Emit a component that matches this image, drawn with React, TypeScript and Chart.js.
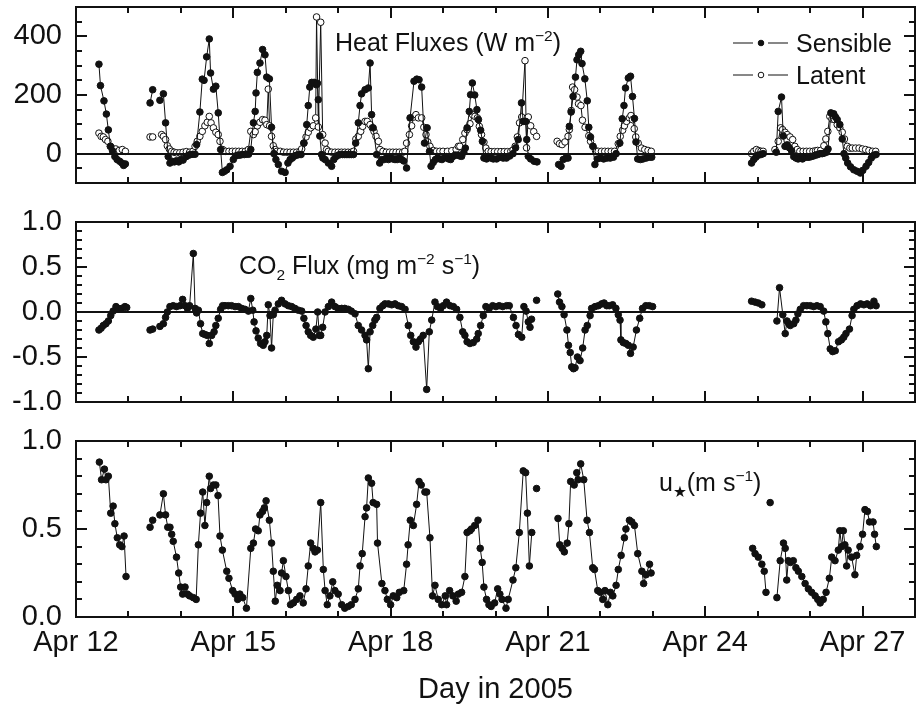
import React, { useEffect, useRef } from "react";
import { Chart, registerables } from "chart.js";

Chart.register(...registerables);

const FONT = "'Liberation Sans', Arial, Helvetica, 'DejaVu Sans', sans-serif";

// ---- x axis (days in April 2005) ----
const dayTicks = [12, 13, 14, 15, 16, 17, 18, 19, 20, 21, 22, 23, 24, 25, 26, 27, 28];
const dayLabelDays = [12, 15, 18, 21, 24, 27];
const dayLabelTexts = ["Apr 12", "Apr 15", "Apr 18", "Apr 21", "Apr 24", "Apr 27"];

// ---- y ticks ----
const heatTicks = [-100, -50, 0, 50, 100, 150, 200, 250, 300, 350, 400, 450, 500];
const heatTickLabels = ["0", "200", "400"];
const co2Ticks = [-1.0, -0.9, -0.8, -0.7, -0.6, -0.5, -0.4, -0.3, -0.2, -0.1, 0.0, 0.1, 0.2, 0.3, 0.4, 0.5, 0.6, 0.7, 0.8, 0.9, 1.0];
const co2TickLabels = ["-1.0", "-0.5", "0.0", "0.5", "1.0"];
const ustarTicks = [0.0, 0.1, 0.2, 0.3, 0.4, 0.5, 0.6, 0.7, 0.8, 0.9, 1.0];
const ustarTickLabels = ["0.0", "0.5", "1.0"];

// ---- data: [hours since Apr 12 00:00, value]; null = gap in record ----
const sensibleHeat = [
  [10.5, 305], [11.2, 232], [12.8, 180], [13.9, 135], [14.8, 81], [15.8, 25], [16.7, 10], [17.8, -10], [18.8, -20], [20, -26], [21, -32], [21.8, -40], [22.6, -35],
  null,
  [33.9, 173], [35.1, 218],
  null,
  [38.4, 182], [40, 204], [41, 105], [42.2, -10], [43, -32], [44, -26], [45, -28], [46, -24], [47, -28], [48, -20], [49, -22], [50.5, -10], [51.5, -5], [52.5, -3], [53.5, -2], [54.5, -2],
  [55.2, 31], [56.7, 142], [57.8, 254], [58.6, 250], [59.8, 330], [61, 391], [61.6, 275], [62.9, 220], [64, 230], [65.1, 139], [66.2, 14], [67, -64], [68, -60], [69, -55], [70.5, -43],
  [72, -20], [73, -8], [74, -5], [75, -5], [76, -3], [77, -3], [78, -2], [79, -2], [80, 14], [81.2, 105], [82, 144], [82.4, 207], [83, 277], [84.2, 309], [85.4, 355], [86.5, 337],
  [87.3, 261], [88.5, 255], [89.5, 90], [90.6, 0], [91.5, -20], [92.6, -37], [94.1, -60], [95.7, -64], [97, -32], [98, -20], [99, -15], [100, -8], [101, -5], [102, -3], [103, -3],
  [104.3, 36], [105.6, 99], [106.3, 164], [107, 227], [107.9, 243], [109, 243], [110, 235], [110.5, 240], [110.9, 184], [111.6, 60], [112.4, -3], [113, -15], [114, -20], [115.5, -32],
  [117, -43], [118, -20], [119, -10], [120, -5], [121, -3], [122, -3], [123, -3], [124, -3], [125, -3], [126, -3], [127, -3], [128, 36], [129.2, 105], [130, 164], [130.7, 204],
  [132.3, 218], [133.8, 224], [134.6, 309], [135.3, 133], [136, 88], [137.6, -3], [139, -32], [140, -20], [141, -20], [142, -15], [143, -20], [144, -15], [145, -18], [146, -20],
  [147, -20], [148, -15], [149, -20], [150, -25], [151.3, -49], [152.9, 122], [154.7, 247], [156, 254], [157, 252], [158.2, 227], [159.5, 36], [160.7, 88], [161.8, 8], [162.5, -43],
  [163.5, -30], [164.5, -20], [165.5, -15], [166.5, -18], [167.5, -20], [168.5, -15], [169.5, -10], [170.5, -18], [171.5, -20], [172.5, -10], [173.5, -5], [174.5, -5], [175.7, -8],
  [176.5, -9], [177.5, 5], [178.2, 19], [179, 88], [180, 144], [180.6, 201], [181.4, 241], [182.5, 200], [183.5, 150], [184.2, 116], [185.2, 80], [186, 42], [186.7, -15], [187.9, -18],
  [189, -12], [190, -15], [191, -18], [192.5, -18], [194, -12], [195.5, -15], [197, -15], [198.5, -8], [200, 0], [201.2, 20], [202.4, 48], [203.9, 173], [204.7, 110], [205.8, 110],
  [206.3, 48], [207, -9], [208.1, -18], [209.7, -26], [211, -28],
  null,
  [220.9, -37], [222, -43], [223, -20], [224.2, -15], [225.2, -15], [225.8, 93], [226.6, 142], [227.5, 195], [228.6, 261], [229.3, 320], [230.1, 337], [231, 349], [231.6, 307],
  [232.9, 255], [234, 180], [234.7, 90], [235.5, 57], [236.6, 25], [237.5, -37], [238.6, -18], [240, -15], [241.5, -18], [243, -15], [244.5, -15], [246, -12], [247.2, 0], [248.9, 36],
  [250, 119], [250.8, 164], [251.5, 224], [252.8, 258], [253.8, 264], [254.7, 195], [255.6, 120], [256.3, 40], [257.1, -18], [258.3, -20], [259.5, -18], [261, -15], [262.5, -12], [263.5, -12],
  null,
  [309.2, -32], [310.2, -20], [311.2, -12], [312.3, -5], [313.5, -3], [314.5, 0],
  null,
  [320.5, 5], [321.4, 144], [322.9, 193], [323.7, 60], [324.5, 25], [325.5, 30], [326.5, 20], [327.5, 10], [328.5, -10], [329.5, -15], [330.5, -18], [331.5, -15], [332.5, -18],
  [333.5, -12], [334.5, -12], [335.5, -12], [336.5, -10], [337.5, -8], [338.5, -5], [339.5, -3], [340.5, 0], [341.5, 0], [342.5, 2], [343.5, 5], [344.2, 16], [345.5, 139], [346.8, 136],
  [347.6, 125], [348.4, 116], [349.6, 99], [350.7, 50], [351.5, 0], [352.3, -15], [353.2, -32], [354.5, -45], [356, -55], [357.5, -60], [359, -66], [360.1, -57], [361.6, -43],
  [362.8, -30], [364, -15], [365.2, -5], [366.2, -3],
];

const latentHeat = [
  [10.5, 70], [11.5, 59], [12.5, 57], [13.5, 48], [14.6, 42], [15.7, 25], [16.8, 17], [18.2, 16], [19.8, 11], [21.2, 14], [22.6, 8],
  null,
  [33.9, 57], [35.1, 57],
  null,
  [39.2, 65], [40, 59], [41, 48], [41.8, 27], [42.7, 16], [43.8, 8], [44.9, 5], [46, 3], [47.5, 3], [49, 5], [50.5, 7], [52, 5], [53.5, 8], [54.5, 25], [55.5, 42], [56.7, 59],
  [57.8, 76], [59, 95], [60.1, 107], [61, 127], [61.8, 105], [62.9, 88], [64, 73], [65.1, 65], [65.9, 42], [67.1, 14], [68.5, 8], [70, 8], [71.5, 8], [73, 8], [74.5, 8], [76, 8],
  [77.5, 8], [78.9, 14], [80, 76], [81.2, 65], [82, 75], [83, 95], [84.2, 107], [85.4, 116], [86.5, 114], [87.3, 99], [88, 220], [88.6, 95], [89.5, 59], [90.3, 27], [91.2, 14],
  [92, 8], [93.5, 8], [95, 5], [96.5, 5], [98, 5], [99.5, 5], [101, 5], [102.5, 8], [103.3, 16], [104.3, 36], [105.3, 57], [106.3, 73], [107.4, 88], [108.6, 95], [109.7, 122],
  [110.1, 466], [110.9, 91], [112, 448], [112.9, 65], [114, 36], [114.7, 14], [115.5, 8], [117, 5], [118.5, 5], [120, 5], [121.5, 5], [123, 5], [124.5, 5], [126, 5], [127, 8],
  [128.1, 50], [129.2, 59], [130.3, 76], [131.2, 93], [132.3, 110], [133.3, 110], [134.6, 99], [135.6, 88], [136.4, 76], [137.3, 59], [138.4, 42], [139.1, 14], [140.5, 8], [142, 5],
  [143.5, 5], [145, 5], [146.5, 5], [148, 5], [149.5, 5], [150.5, 8], [151.3, 36], [152.6, 65], [153.6, 95], [154.6, 125], [155.6, 133], [156.7, 122], [158.2, 122], [159.2, 90],
  [160.2, 65], [161, 40], [162, 25], [163.5, 11], [165, 8], [166.5, 8], [168, 8], [170, 8], [172, 10], [174, 14], [175, 25], [175.7, 25], [177, 48], [178, 70], [179, 82],
  [180.3, 102], [181.5, 133], [182.6, 127], [183.7, 122], [184.6, 93], [185.6, 65], [186.7, 39], [187.6, 19], [188.7, 8], [190, 7], [191.5, 7], [193, 7], [194.5, 7], [196, 7],
  [197.5, 7], [199, 8], [200, 12], [201, 25], [202, 57], [203, 105], [204, 125], [205.5, 317], [206.2, 20], [207, 125], [208.1, 95], [209.5, 75], [210.8, 59],
  null,
  [220.2, 42], [221.3, 34], [222.5, 31], [223.8, 40], [225.2, 59], [225.8, 82], [226.7, 147], [227.3, 227], [228.2, 218], [229.3, 193], [230, 170], [231.1, 164], [231.8, 114],
  [233, 90], [234.7, 61], [235.5, 42], [236.6, 25], [237.8, 10], [239, 8], [240.5, 8], [242, 8], [243.5, 8], [245, 8], [246.5, 8], [248.2, 34], [249.1, 59], [250.2, 80], [251, 95],
  [252, 110], [253.3, 122], [254, 130], [254.7, 116], [255.5, 85], [256.2, 57], [257.3, 36], [258.8, 19], [260.3, 14], [261.8, 11], [263.3, 8],
  null,
  [309.2, 0], [310.2, 8], [311.4, 14], [312.5, 10], [313.5, 8], [314.5, 8],
  null,
  [319.9, 14], [321.4, 42], [322.5, 88], [323.4, 82], [324.5, 73], [325.5, 65], [326.8, 57], [328, 48], [329, 25], [330.1, 14], [331.3, 8], [332.8, 8], [334.3, 8], [335.8, 8],
  [337.3, 8], [338.5, 10], [339.4, 11], [340.8, 11], [342.3, 27], [343.2, 50], [344.1, 76], [345, 127], [346, 118], [347.2, 116], [348.4, 99], [349.6, 88], [350.7, 73], [351.7, 50],
  [353, 25], [354.2, 19], [355.3, 19], [356.8, 19], [358.4, 19], [359.9, 16], [361.4, 14], [362.9, 11], [364.5, 8], [366, 8],
];

const co2Flux = [
  [10.5, -0.20], [11.5, -0.18], [12.5, -0.15], [13.7, -0.13], [14.8, -0.10], [15.9, -0.04], [17, 0.01], [18.3, 0.06], [19.4, 0.04], [20.9, 0.04], [22.4, 0.06], [23.2, 0.05],
  null,
  [33.9, -0.20], [35.1, -0.19],
  null,
  [38.4, -0.16], [40, -0.13], [41, -0.06], [41.8, 0.0], [43, 0.06], [44.5, 0.07], [46, 0.06], [47.6, 0.07], [48.8, 0.14], [49.9, 0.07], [51, 0.04], [52, 0.07], [53.7, 0.65],
  [54.5, 0.04], [55.2, -0.01], [56, 0.02], [57, -0.13], [58, -0.24], [59, -0.25], [60.1, -0.26], [61, -0.35], [62.1, -0.26], [63.2, -0.22], [64, -0.15], [65.1, -0.07], [66.2, 0.03],
  [67.1, 0.07], [68.2, 0.07], [69.7, 0.07], [71.2, 0.07], [72.8, 0.06], [74.3, 0.06], [75.8, 0.04], [77.3, 0.03], [78.9, 0.01], [80, 0.15], [80.9, 0.02], [81.5, -0.11], [82.4, -0.21],
  [83.4, -0.29], [84.5, -0.35], [85.7, -0.37], [86.5, -0.33], [87.3, -0.26], [88, 0.08], [88.8, -0.04], [89.5, -0.40], [90.3, -0.03], [91.1, 0.02], [92.6, 0.09], [94.1, 0.13],
  [95.7, 0.09], [97.2, 0.07], [98.7, 0.06], [100.2, 0.04], [101.8, 0.02], [103.3, 0.01], [104.3, -0.07], [105.3, -0.15], [106.3, -0.22], [107.4, -0.26], [108.6, -0.28], [109.8, -0.19],
  [110.6, 0.0], [111.4, -0.26], [112, -0.26], [112.9, -0.17], [114, 0.0], [115.5, 0.06], [117, 0.11], [118.5, 0.06], [120, 0.04], [121.6, 0.04], [123, 0.04], [124.6, 0.03], [126, 0.01],
  [127.7, -0.02], [129.2, -0.15], [130.7, -0.20], [132.3, -0.26], [133, -0.31], [133.8, -0.63], [134.6, -0.22], [135.8, -0.15], [136.8, -0.09], [137.6, -0.06], [139.1, 0.04],
  [140.4, 0.07], [141.4, 0.09], [143, 0.09], [144.5, 0.08], [146, 0.09], [147.5, 0.07], [149, 0.06], [150.6, 0.03], [152.1, -0.15], [153.2, -0.26], [154.4, -0.33], [155.6, -0.39],
  [156.7, -0.33], [157.7, -0.30], [158.9, -0.26], [160.5, -0.86], [161.7, -0.22], [162.8, -0.09], [164.3, 0.11], [165.4, 0.06], [166.9, 0.04], [168.1, 0.07], [169.6, 0.11],
  [171.2, 0.07], [172.7, 0.06], [174.2, 0.03], [175.7, -0.06], [177, -0.22], [178, -0.26], [179, -0.33], [180.3, -0.35], [181.8, -0.34], [183.4, -0.30], [184.1, -0.24], [185.2, -0.15],
  [186.4, -0.04], [187.6, 0.06], [189.1, 0.04], [190.7, 0.07], [192.2, 0.06], [193.7, 0.07], [195.3, 0.06], [197.1, 0.07], [198.3, 0.07], [200.2, -0.06], [201.4, -0.15], [202.5, -0.25],
  [204, -0.28], [205, 0.06], [206, 0.01], [207, -0.11], [207.8, -0.17], [208.5, -0.08],
  null,
  [210.8, 0.13],
  null,
  [220.5, 0.20], [221.3, 0.11], [222.4, 0.06], [223.4, -0.03], [224.7, -0.20], [225.4, -0.37], [226.2, -0.45], [226.9, -0.61], [227.7, -0.63], [228.4, -0.62], [229.5, -0.50],
  [230.7, -0.54], [231.9, -0.40], [233, -0.20], [234, -0.15], [235.3, -0.04], [236, 0.04], [237.6, 0.06], [239.1, 0.07], [240.6, 0.09], [241.7, 0.10], [242.9, 0.07], [244.1, 0.07],
  [245.6, 0.08], [247.1, 0.04], [248.2, -0.03], [249, -0.09], [249.4, -0.31], [250.5, -0.34], [251.7, -0.35], [252.8, -0.37], [253.8, -0.46], [255, -0.39], [256.5, -0.20], [258, -0.07],
  [259.3, 0.04], [260.8, 0.07], [262.4, 0.07], [263.9, 0.06],
  null,
  [309.2, 0.12], [310.8, 0.11], [312.3, 0.10], [313.9, 0.08],
  null,
  [320.8, -0.10], [322, 0.27], [323.5, -0.03], [324.6, -0.24], [325.4, -0.10], [326.2, -0.13], [326.9, -0.15], [328.5, -0.13], [329.5, -0.09], [330.4, -0.02], [331.5, 0.03],
  [333, 0.07], [334.5, 0.07], [336.1, 0.07], [337.6, 0.06], [339.1, 0.07], [340.6, 0.06], [342.2, 0.01], [343.2, -0.11], [344.1, -0.24], [345.2, -0.41], [346.3, -0.44], [347.5, -0.43],
  [349, -0.33], [350.3, -0.31], [351.4, -0.28], [352.4, -0.24], [354, -0.19], [355.2, -0.04], [356, 0.03], [357.5, 0.07], [359.1, 0.09], [360.6, 0.08], [362.1, 0.09], [363.6, 0.07],
  [365.2, 0.12], [366.2, 0.07],
];

const frictionVelocity = [
  [10.7, 0.88], [11.7, 0.78], [13, 0.84], [13.7, 0.78], [14.8, 0.80], [15.9, 0.59], [17, 0.63], [17.8, 0.53], [18.9, 0.45], [20, 0.41], [21, 0.40], [22, 0.46], [22.9, 0.23],
  null,
  [33.9, 0.51], [35.1, 0.55],
  null,
  [38.4, 0.58], [40, 0.70], [41, 0.58], [42, 0.51], [43, 0.51], [43.8, 0.47], [44.5, 0.43], [46, 0.34], [47, 0.25], [47.9, 0.17], [48.8, 0.13], [49.9, 0.17], [51, 0.13], [52, 0.12],
  [53.7, 0.11], [55, 0.10], [56, 0.41], [57, 0.59], [58, 0.71], [59, 0.52], [59.8, 0.65], [61, 0.80], [61.6, 0.73], [62.9, 0.75], [64, 0.75], [65, 0.69], [65.9, 0.46], [67, 0.38],
  [69, 0.26], [70, 0.22], [71.7, 0.15], [72.8, 0.13], [74, 0.10], [75, 0.13], [76.3, 0.11], [78, 0.05], [80, 0.39], [81.2, 0.42], [82.2, 0.50], [83.4, 0.49], [84.2, 0.58], [85.4, 0.60],
  [86.2, 0.62], [87, 0.66], [88.5, 0.55], [89.5, 0.42], [90.3, 0.26], [91.2, 0.09], [92.1, 0.18], [93.4, 0.15], [94.1, 0.25], [94.9, 0.32], [96.1, 0.23], [97.2, 0.15], [98.2, 0.07],
  [99.5, 0.08], [101, 0.10], [102.5, 0.12], [104, 0.08], [105.3, 0.16], [106.3, 0.29], [107.4, 0.42], [108.6, 0.39], [109.4, 0.37], [110.5, 0.38], [112, 0.65], [113.2, 0.27], [114, 0.15],
  [115, 0.07], [116.2, 0.12], [117.5, 0.20], [118.5, 0.15], [120, 0.13], [121.6, 0.07], [123, 0.05], [124.6, 0.06], [126, 0.07], [127.7, 0.10], [129.2, 0.16], [130, 0.29], [131, 0.36],
  [132.3, 0.57], [133, 0.62], [133.8, 0.79], [135.3, 0.76], [136, 0.65], [137.6, 0.64], [138, 0.42], [140, 0.19], [141.4, 0.15], [142.5, 0.10], [144, 0.07], [145.2, 0.12], [146.8, 0.11],
  [148, 0.14], [150, 0.15], [151.3, 0.30], [152, 0.41], [153, 0.55], [154.4, 0.52], [155.9, 0.64], [157, 0.77], [158, 0.75], [159.7, 0.71], [160.5, 0.71], [162, 0.45], [163.2, 0.12],
  [164.3, 0.18], [165.8, 0.10], [167.4, 0.07], [169, 0.12], [169.6, 0.07], [171, 0.15], [172.5, 0.12], [174, 0.09], [175, 0.13], [176.5, 0.14], [178, 0.23], [179, 0.48], [180.3, 0.49],
  [181, 0.50], [182.5, 0.52], [184, 0.55], [185, 0.39], [185.9, 0.31], [186.7, 0.17], [187.9, 0.10], [189, 0.07], [190, 0.06], [191.6, 0.08], [193, 0.16], [194, 0.13], [195, 0.10],
  [196.8, 0.05], [197.8, 0.10], [200, 0.21], [201.3, 0.28], [202.9, 0.48], [204.7, 0.83], [205.8, 0.82], [206.6, 0.59], [207.5, 0.29], [208.6, 0.48],
  null,
  [210.8, 0.73],
  null,
  [220.6, 0.56], [221.4, 0.41], [222.5, 0.39], [223.5, 0.37], [224.8, 0.42], [225.6, 0.53], [226.4, 0.77], [228, 0.75], [229.2, 0.82], [229.8, 0.78], [231, 0.87], [232.4, 0.78],
  [233.9, 0.55], [235, 0.48], [236.5, 0.28], [237.3, 0.27], [238.8, 0.15], [240, 0.14], [241.1, 0.10], [242.1, 0.15], [243.4, 0.07], [244.6, 0.14], [245.7, 0.12], [247.2, 0.18],
  [248.2, 0.27], [249.5, 0.35], [251, 0.45], [251.7, 0.50], [253.3, 0.55], [254.4, 0.54], [255.6, 0.52], [257.1, 0.36], [259, 0.26], [259.8, 0.19], [260.9, 0.24], [262.5, 0.30], [263.2, 0.25],
  null,
  [309.7, 0.39], [310.8, 0.36], [312.3, 0.34], [313.9, 0.30], [315, 0.26], [315.8, 0.14],
  null,
  [317.7, 0.65],
  null,
  [320.8, 0.11], [322.3, 0.32], [323.8, 0.42], [324.6, 0.39], [325.3, 0.21], [326, 0.32], [327, 0.31], [328.3, 0.32], [329.5, 0.28], [330.6, 0.26], [332.2, 0.23], [333.7, 0.19],
  [335.2, 0.16], [336.7, 0.14], [338.3, 0.12], [339.5, 0.10], [340.6, 0.08], [342, 0.10], [343.3, 0.14], [344.8, 0.22], [345.9, 0.34], [347.4, 0.32], [348.9, 0.38], [349.6, 0.49],
  [350.4, 0.40], [351.2, 0.49], [351.9, 0.41], [352.7, 0.29], [353.4, 0.38], [355, 0.34], [356.5, 0.24], [357.3, 0.35], [358.8, 0.40], [360, 0.47], [361.1, 0.61], [362.2, 0.60],
  [363.2, 0.54], [364.8, 0.54], [365.5, 0.47], [366.3, 0.40],
];

// ---------------------------------------------------------------------------

function toPoints(rows: any[]) {
  const out: { x: number; y: number | null }[] = [];
  let lastX = 12;
  for (const r of rows) {
    if (r === null) {
      out.push({ x: lastX + 0.001, y: null });
    } else {
      lastX = 12 + r[0] / 24;
      out.push({ x: lastX, y: r[1] });
    }
  }
  return out;
}

type Run = { t: string; sup?: boolean; sub?: boolean; star?: boolean };

function drawRich(ctx: CanvasRenderingContext2D, x: number, y: number, runs: Run[], size: number) {
  let cx = x;
  ctx.textAlign = "left";
  ctx.textBaseline = "alphabetic";
  for (const r of runs) {
    const s = r.sup || r.sub ? size * 0.62 : size;
    ctx.font = `${s}px ${FONT}`;
    const dy = r.sup ? -size * 0.42 : r.sub ? size * 0.24 : 0;
    ctx.fillText(r.t, cx, y + dy);
    cx += ctx.measureText(r.t).width;
  }
}

function makeDecor(opts: { zeroLine: boolean; draw?: (ctx: CanvasRenderingContext2D, chart: any) => void }) {
  return {
    id: "decor",
    afterDatasetsDraw(chart: any) {
      const { ctx, chartArea: a, scales } = chart;
      const xs = scales.x;
      const ys = scales.y;
      ctx.save();
      ctx.strokeStyle = "#111";
      ctx.lineWidth = 2;
      const seg = (x1: number, y1: number, x2: number, y2: number) => {
        ctx.beginPath();
        ctx.moveTo(x1, y1);
        ctx.lineTo(x2, y2);
        ctx.stroke();
      };
      if (opts.zeroLine) {
        const py = Math.round(ys.getPixelForValue(0));
        seg(a.left, py, a.right, py);
      }
      for (const d of dayTicks) {
        if (d === 12 || d === 28) continue;
        const px = Math.round(xs.getPixelForValue(d));
        const len = dayLabelDays.includes(d) ? 11 : 6;
        seg(px, a.bottom, px, a.bottom - len);
        seg(px, a.top, px, a.top + len);
      }
      for (const t of ys.ticks) {
        const py = Math.round(ys.getPixelForValue(t.value));
        if (Math.abs(py - a.top) < 1 || Math.abs(py - a.bottom) < 1) continue;
        const len = t.label !== "" ? 11 : 6;
        seg(a.left, py, a.left + len, py);
        seg(a.right, py, a.right - len, py);
      }
      ctx.lineWidth = 2;
      ctx.strokeRect(a.left, a.top, a.right - a.left, a.bottom - a.top);
      ctx.fillStyle = "#111";
      if (opts.draw) opts.draw(ctx, chart);
      ctx.restore();
    },
  };
}

function buildConfig(p: {
  datasets: any[];
  yMin: number;
  yMax: number;
  yTicks: number[];
  yLabels: string[];
  yFmt: (v: number) => string;
  padding: any;
  showX: boolean;
  xHeight?: number;
  zeroLine: boolean;
  draw?: (ctx: CanvasRenderingContext2D, chart: any) => void;
}) {
  const tickFont = { family: FONT, size: 29 };
  return {
    type: "line",
    data: { datasets: p.datasets },
    options: {
      responsive: false,
      maintainAspectRatio: false,
      animation: false,
      devicePixelRatio: 1,
      events: [],
      layout: { autoPadding: false, padding: p.padding },
      plugins: { legend: { display: false }, tooltip: { enabled: false }, title: { display: false } },
      scales: {
        x: {
          type: "linear",
          min: 12,
          max: 28,
          display: p.showX,
          afterBuildTicks: (scale: any) => {
            scale.ticks = dayTicks.map((v) => ({ value: v }));
          },
          ticks: {
            autoSkip: false,
            maxRotation: 0,
            minRotation: 0,
            padding: 9,
            color: "#111",
            font: tickFont,
            callback: (v: number) => {
              const i = dayLabelDays.indexOf(v);
              return i >= 0 ? dayLabelTexts[i] : "";
            },
          },
          grid: { display: false, drawTicks: false },
          border: { display: false },
          title: {
            display: p.showX,
            text: "Day in 2005",
            color: "#111",
            font: { family: FONT, size: 29 },
            padding: { top: 0, bottom: 4 },
          },
          afterFit: (s: any) => {
            if (p.showX && p.xHeight) s.height = p.xHeight;
            s.paddingLeft = 0;
            s.paddingRight = 0;
          },
        },
        y: {
          type: "linear",
          min: p.yMin,
          max: p.yMax,
          afterBuildTicks: (scale: any) => {
            scale.ticks = p.yTicks.map((v) => ({ value: v }));
          },
          ticks: {
            autoSkip: false,
            padding: 14,
            color: "#111",
            font: tickFont,
            callback: (v: number) => {
              const s = p.yFmt(v);
              return p.yLabels.includes(s) ? s : "";
            },
          },
          grid: { display: false, drawTicks: false },
          border: { display: false },
          afterFit: (s: any) => {
            s.width = 76;
            s.paddingTop = 0;
            s.paddingBottom = 0;
          },
        },
      },
    },
    plugins: [makeDecor({ zeroLine: p.zeroLine, draw: p.draw })],
  };
}

const lineStyle = {
  borderColor: "#111",
  borderWidth: 1,
  pointRadius: 3.3,
  pointBorderColor: "#111",
  pointBorderWidth: 1,
  tension: 0,
  spanGaps: false,
};

const fmt1 = (v: number) => (Math.abs(v) < 1e-9 ? "0.0" : v.toFixed(1));

function heatConfig() {
  return buildConfig({
    datasets: [
      { ...lineStyle, label: "Sensible", data: toPoints(sensibleHeat), pointBackgroundColor: "#111", order: 0 },
      { ...lineStyle, label: "Latent", data: toPoints(latentHeat), pointBackgroundColor: "#fff", order: 1 },
    ],
    yMin: -100,
    yMax: 500,
    yTicks: heatTicks,
    yLabels: heatTickLabels,
    yFmt: (v) => String(Math.round(v)),
    padding: { left: 0, right: 5, top: 7, bottom: 22 },
    showX: false,
    zeroLine: true,
    draw: (ctx) => {
      drawRich(ctx, 335, 51, [{ t: "Heat Fluxes (W m" }, { t: "\u22122", sup: true }, { t: ")" }], 25);
      // legend
      ctx.lineWidth = 1.2;
      const rows = [
        { y: 43, filled: true, text: "Sensible" },
        { y: 75, filled: false, text: "Latent" },
      ];
      for (const r of rows) {
        ctx.beginPath();
        ctx.moveTo(733, r.y);
        ctx.lineTo(753, r.y);
        ctx.moveTo(768, r.y);
        ctx.lineTo(788, r.y);
        ctx.stroke();
        ctx.beginPath();
        ctx.arc(761, r.y, 2.8, 0, Math.PI * 2);
        ctx.fillStyle = r.filled ? "#111" : "#fff";
        ctx.fill();
        ctx.lineWidth = 1;
        ctx.stroke();
        ctx.fillStyle = "#111";
        drawRich(ctx, 796, r.y + 9, [{ t: r.text }], 25);
      }
    },
  });
}

function co2Config() {
  return buildConfig({
    datasets: [{ ...lineStyle, label: "CO2", data: toPoints(co2Flux), pointBackgroundColor: "#111" }],
    yMin: -1,
    yMax: 1,
    yTicks: co2Ticks,
    yLabels: co2TickLabels,
    yFmt: fmt1,
    padding: { left: 0, right: 5, top: 19, bottom: 18 },
    showX: false,
    zeroLine: true,
    draw: (ctx) => {
      drawRich(
        ctx,
        239,
        71,
        [
          { t: "CO" },
          { t: "2", sub: true },
          { t: " Flux (mg m" },
          { t: "\u22122", sup: true },
          { t: " s" },
          { t: "\u22121", sup: true },
          { t: ")" },
        ],
        25
      );
    },
  });
}

function ustarConfig() {
  return buildConfig({
    datasets: [{ ...lineStyle, label: "u*", data: toPoints(frictionVelocity), pointBackgroundColor: "#111" }],
    yMin: 0,
    yMax: 1,
    yTicks: ustarTicks,
    yLabels: ustarTickLabels,
    yFmt: fmt1,
    padding: { left: 0, right: 5, top: 21, bottom: 0 },
    showX: true,
    xHeight: 94,
    zeroLine: false,
    draw: (ctx) => {
      drawRich(ctx, 659, 71, [{ t: "u" }, { t: "\u2605", sub: true }, { t: "(m s" }, { t: "\u22121", sup: true }, { t: ")" }], 25);
    },
  });
}

function Panel({ top, height, make }: { top: number; height: number; make: () => any }) {
  const ref = useRef<HTMLCanvasElement | null>(null);
  useEffect(() => {
    if (!ref.current) return;
    const chart = new Chart(ref.current, make());
    return () => chart.destroy();
  }, []);
  return (
    <canvas
      ref={ref}
      width={920}
      height={height}
      style={{ position: "absolute", left: 0, top, width: 920, height, display: "block" }}
    />
  );
}

export default function App() {
  return (
    <div style={{ position: "absolute", left: 0, top: 0, width: 920, height: 711, background: "#fff", overflow: "hidden" }}>
      <Panel top={0} height={205} make={heatConfig} />
      <Panel top={203} height={217} make={co2Config} />
      <Panel top={420} height={291} make={ustarConfig} />
    </div>
  );
}
